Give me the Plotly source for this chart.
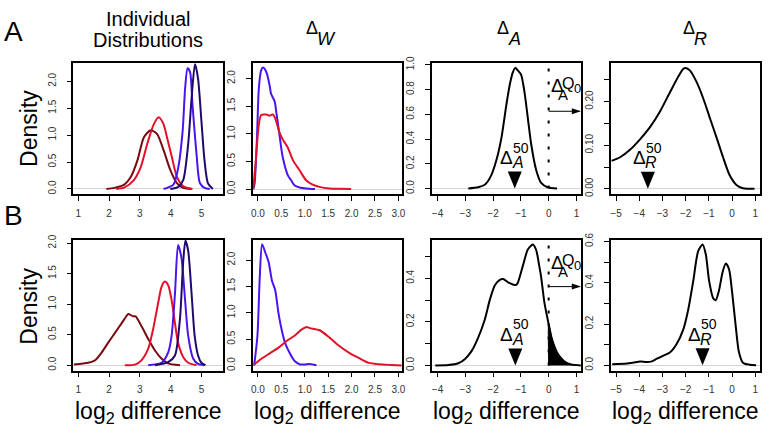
import plotly.graph_objects as go

FONT = "Liberation Sans, Arial, Helvetica, sans-serif"
C_DARKRED = "#780a12"
C_RED = "#e3102a"
C_BLUE = "#4a14f0"
C_NAVY = "#20096e"

# ---------------- Row A ----------------
a1_darkred_x = [1.91, 2.17, 2.49, 2.71, 2.92, 3.13, 3.35, 3.56, 3.77, 3.99, 4.2, 4.41, 4.68]
a1_darkred_y = [0, 0.02, 0.08, 0.23, 0.53, 0.96, 1.09, 1.02, 0.72, 0.35, 0.11, 0.02, 0]
a1_red_x = [2.23, 2.5, 2.81, 3.03, 3.24, 3.45, 3.61, 3.77, 3.88, 4.04, 4.2, 4.41, 4.71]
a1_red_y = [0, 0.03, 0.17, 0.41, 0.84, 1.2, 1.33, 1.2, 0.96, 0.59, 0.23, 0.05, 0]
a1_blue_x = [3.77, 4.09, 4.25, 4.39, 4.47, 4.55, 4.63, 4.71, 4.84, 4.95, 5.1, 5.27]
a1_blue_y = [0, 0.08, 0.41, 1.08, 1.87, 2.24, 2.17, 1.56, 0.65, 0.11, 0.02, 0]
a1_navy_x = [3.99, 4.25, 4.41, 4.57, 4.68, 4.79, 4.89, 5.0, 5.1, 5.21, 5.37]
a1_navy_y = [0, 0.04, 0.17, 0.84, 1.68, 2.32, 2.05, 1.26, 0.53, 0.11, 0]

a2_blue_x = [-0.1, -0.07, -0.02, 0.02, 0.07, 0.11, 0.18, 0.25, 0.28, 0.36, 0.39, 0.45, 0.53, 0.64, 0.71, 0.78, 0.89, 1.03, 1.22]
a2_blue_y = [0, 0.1, 0.93, 1.82, 2.15, 2.2, 2.12, 1.88, 1.73, 1.58, 1.41, 1.05, 0.58, 0.25, 0.16, 0.07, 0.03, 0.01, 0]
a2_red_x = [-0.1, -0.05, 0.02, 0.07, 0.18, 0.25, 0.32, 0.38, 0.45, 0.53, 0.64, 0.75, 0.89, 1.03, 1.17, 1.31, 1.53, 1.74, 1.99]
a2_red_y = [0, 0.46, 1.17, 1.34, 1.35, 1.33, 1.35, 1.26, 1.05, 0.9, 0.75, 0.52, 0.34, 0.16, 0.08, 0.04, 0.01, 0.005, 0]

a3_x = [-2.89, -2.54, -2.3, -2.08, -1.88, -1.7, -1.52, -1.4, -1.29, -1.2, -1.11, -0.99, -0.87, -0.75, -0.63, -0.45, -0.27, -0.04, 0.3]
a3_y = [0, 0.01, 0.03, 0.1, 0.23, 0.41, 0.68, 0.84, 0.94, 0.976, 0.955, 0.92, 0.78, 0.57, 0.36, 0.15, 0.045, 0.01, 0]

a4_x = [-5.2, -4.81, -4.39, -3.96, -3.53, -3.1, -2.67, -2.31, -2.1, -2.0, -1.81, -1.53, -1.24, -0.96, -0.67, -0.39, -0.1, 0.19, 0.47, 0.97]
a4_y = [0.064, 0.073, 0.09, 0.114, 0.142, 0.178, 0.222, 0.258, 0.275, 0.277, 0.271, 0.245, 0.207, 0.163, 0.118, 0.073, 0.031, 0.009, 0.0015, 0]

# ---------------- Row B ----------------
b1_darkred_x = [0.85, 1.32, 1.54, 1.76, 1.97, 2.19, 2.41, 2.57, 2.62, 2.78, 2.86, 3.05, 3.27, 3.49, 3.7, 3.92, 4.3]
b1_darkred_y = [0.01, 0.04, 0.08, 0.21, 0.37, 0.53, 0.69, 0.81, 0.84, 0.8, 0.8, 0.64, 0.43, 0.24, 0.11, 0.03, 0]
b1_red_x = [2.51, 2.84, 3.05, 3.27, 3.43, 3.59, 3.7, 3.81, 3.92, 4.03, 4.14, 4.24, 4.41, 4.57, 4.84]
b1_red_y = [0, 0.01, 0.08, 0.27, 0.59, 1.01, 1.28, 1.37, 1.31, 1.07, 0.69, 0.37, 0.13, 0.04, 0]
b1_blue_x = [3.27, 3.7, 3.92, 4.03, 4.14, 4.24, 4.35, 4.46, 4.57, 4.73, 4.89, 5.1]
b1_blue_y = [0, 0.04, 0.21, 0.48, 1.17, 1.97, 1.76, 1.12, 0.48, 0.11, 0.02, 0]
b1_navy_x = [3.49, 3.92, 4.14, 4.3, 4.41, 4.48, 4.57, 4.68, 4.78, 4.89, 5.0, 5.13]
b1_navy_y = [0, 0.05, 0.16, 0.75, 1.71, 2.04, 1.87, 1.17, 0.48, 0.16, 0.04, 0]

b2_blue_x = [-0.08, -0.01, 0.04, 0.09, 0.16, 0.23, 0.3, 0.37, 0.44, 0.51, 0.58, 0.69, 0.79, 0.9, 1.0, 1.11, 1.25]
b2_blue_y = [0, 0.56, 1.68, 2.3, 2.14, 1.96, 1.61, 1.43, 0.99, 0.67, 0.43, 0.22, 0.08, 0.02, 0.02, 0.03, 0.005]
b2_red_x = [-0.08, 0.06, 0.27, 0.44, 0.62, 0.79, 0.93, 1.04, 1.11, 1.32, 1.53, 1.74, 1.95, 2.16, 2.37, 2.58, 2.86, 3.07]
b2_red_y = [0.02, 0.12, 0.24, 0.34, 0.47, 0.57, 0.68, 0.73, 0.71, 0.67, 0.53, 0.37, 0.24, 0.14, 0.05, 0.025, 0.01, 0.0]

b3_x = [-4.08, -3.61, -3.25, -3.01, -2.77, -2.54, -2.3, -2.12, -1.94, -1.76, -1.64, -1.46, -1.29, -1.17, -1.11, -0.93, -0.75, -0.57, -0.45, -0.33, -0.275, -0.155, 0.0, 0.1, 0.2, 0.3, 0.44, 0.6, 0.8, 1.15]
b3_y = [0, 0.002, 0.01, 0.03, 0.067, 0.127, 0.21, 0.3, 0.367, 0.393, 0.397, 0.382, 0.372, 0.37, 0.38, 0.457, 0.532, 0.555, 0.53, 0.45, 0.41, 0.29, 0.19, 0.13, 0.09, 0.06, 0.035, 0.015, 0.005, 0]

b4_x = [-5.17, -4.53, -4.1, -3.96, -3.67, -3.46, -3.24, -2.96, -2.67, -2.39, -2.1, -1.89, -1.67, -1.46, -1.27, -1.13, -0.99, -0.81, -0.7, -0.56, -0.41, -0.27, -0.13, 0.01, 0.16, 0.3, 0.47, 0.76, 1.04]
b4_y = [0.005, 0.009, 0.016, 0.019, 0.016, 0.019, 0.032, 0.047, 0.063, 0.103, 0.174, 0.269, 0.41, 0.553, 0.585, 0.537, 0.41, 0.324, 0.316, 0.363, 0.45, 0.493, 0.466, 0.348, 0.19, 0.063, 0.013, 0.003, 0]

# medians (marked by triangles) and Q0 cut
median_A_a = -1.22
median_R_a = -3.63
median_A_b = -1.2
median_R_b = -1.27
q0_cut = 0.0
q0_arrow_end = 1.12

# axis ticks (labelled) and extra unlabelled ticks
x_ticks = [
    ([1, 2, 3, 4, 5], ["1", "2", "3", "4", "5"]),
    ([0, 0.5, 1, 1.5, 2, 2.5, 3], ["0.0", "0.5", "1.0", "1.5", "2.0", "2.5", "3.0"]),
    ([-4, -3, -2, -1, 0, 1], ["\u22124", "\u22123", "\u22122", "\u22121", "0", "1"]),
    ([-5, -4, -3, -2, -1, 0, 1], ["\u22125", "\u22124", "\u22123", "\u22122", "\u22121", "0", "1"]),
]
y_ticks_a = [
    ([0, 0.5, 1, 1.5, 2], ["0.0", "0.5", "1.0", "1.5", "2.0"], []),
    ([0, 0.5, 1, 1.5, 2], ["0.0", "0.5", "1.0", "1.5", "2.0"], []),
    ([0, 0.2, 0.4, 0.6, 0.8, 1.0], ["0.0", "0.2", "0.4", "0.6", "0.8", "1.0"], []),
    ([0, 0.1, 0.2], ["0.00", "0.10", "0.20"], [0.05, 0.15, 0.25]),
]
y_ticks_b = [
    ([0, 0.5, 1, 1.5, 2], ["0.0", "0.5", "1.0", "1.5", "2.0"], []),
    ([0, 0.5, 1, 1.5, 2], ["0.0", "0.5", "1.0", "1.5", "2.0"], []),
    ([0, 0.2, 0.4], ["0.0", "0.2", "0.4"], [0.1, 0.3, 0.5]),
    ([0, 0.2, 0.4, 0.6], ["0.0", "0.2", "0.4", "0.6"], [0.1, 0.3, 0.5]),
]
x_ranges = [[0.84, 5.70], [-0.11, 3.08], [-4.2, 1.18], [-5.21, 1.21]]
y_ranges_a = [[-0.095, 2.336], [-0.09, 2.28], [-0.045, 1.014], [-0.012, 0.288]]
y_ranges_b = [[-0.09, 2.05], [-0.098, 2.382], [-0.024, 0.576], [-0.026, 0.607]]

W, H = 773, 433
col_px = [(72, 222.7), (252.7, 403.3), (433.3, 584), (614, 764)]
row_px = [(57.5, 191.5), (238.5, 372.3)]

fig = go.Figure()


def ax_names(row, col):
    n = row * 4 + col + 1
    s = "" if n == 1 else str(n)
    return "x" + s, "y" + s, n


def line(row, col, xs, ys, color, width=2):
    xa, ya, _ = ax_names(row, col)
    fig.add_trace(go.Scatter(x=xs, y=ys, mode="lines", xaxis=xa, yaxis=ya,
                             line=dict(color=color, width=width, shape="spline", smoothing=0.7),
                             showlegend=False, hoverinfo="skip"))


layout = dict(width=W, height=H, margin=dict(l=0, r=0, t=0, b=0),
              paper_bgcolor="white", plot_bgcolor="white", showlegend=False,
              font=dict(family=FONT, color="black"))

for row in range(2):
    for col in range(4):
        xa, ya, n = ax_names(row, col)
        x0, x1 = col_px[col]
        t, b = row_px[row]
        yt = (y_ticks_a if row == 0 else y_ticks_b)[col]
        yr = (y_ranges_a if row == 0 else y_ranges_b)[col]
        key = "" if n == 1 else str(n)
        layout["xaxis" + key] = dict(
            domain=[x0 / W, x1 / W], anchor=ya, range=x_ranges[col],
            tickmode="array", tickvals=x_ticks[col][0], ticktext=x_ticks[col][1],
            showline=True, mirror=True, linecolor="black", linewidth=1.5,
            ticks="outside", ticklen=5, tickwidth=1, tickcolor="black",
            showgrid=False, zeroline=False, ticklabelstandoff=4,
            tickfont=dict(size=10, color="#333", family=FONT))
        yax = dict(
            domain=[1 - b / H, 1 - t / H], anchor=xa, range=yr,
            tickmode="array", tickvals=yt[0], ticktext=yt[1], tickangle=-90,
            showline=True, mirror=True, linecolor="black", linewidth=1.5,
            ticks="outside", ticklen=5, tickwidth=1, tickcolor="black",
            showgrid=False, zeroline=True, zerolinecolor="#d4d4d4", zerolinewidth=1,
            ticklabelstandoff=7,
            tickfont=dict(size=10, color="#333", family=FONT))
        if yt[2]:
            yax["minor"] = dict(tickmode="array", tickvals=yt[2], ticks="outside",
                                ticklen=5, tickwidth=1, tickcolor="black", showgrid=False)
        layout["yaxis" + key] = yax

# Shaded tail (panel B, Delta_A) under the curve beyond Q0
fill_x = [x for x in b3_x if x >= q0_cut]
fill_y = [y for x, y in zip(b3_x, b3_y) if x >= q0_cut]
fig.add_trace(go.Scatter(x=[q0_cut] + fill_x, y=[0] + fill_y, mode="lines", xaxis="x7", yaxis="y7",
                         fill="toself", fillcolor="black",
                         line=dict(color="black", width=1, shape="spline", smoothing=0.7),
                         showlegend=False, hoverinfo="skip"))

# Curves
line(0, 0, a1_darkred_x, a1_darkred_y, C_DARKRED)
line(0, 0, a1_red_x, a1_red_y, C_RED)
line(0, 0, a1_blue_x, a1_blue_y, C_BLUE)
line(0, 0, a1_navy_x, a1_navy_y, C_NAVY)
line(0, 1, a2_blue_x, a2_blue_y, C_BLUE)
line(0, 1, a2_red_x, a2_red_y, C_RED)
line(0, 2, a3_x, a3_y, "black")
line(0, 3, a4_x, a4_y, "black")
line(1, 0, b1_darkred_x, b1_darkred_y, C_DARKRED)
line(1, 0, b1_red_x, b1_red_y, C_RED)
line(1, 0, b1_blue_x, b1_blue_y, C_BLUE)
line(1, 0, b1_navy_x, b1_navy_y, C_NAVY)
line(1, 1, b2_blue_x, b2_blue_y, C_BLUE)
line(1, 1, b2_red_x, b2_red_y, C_RED)
line(1, 2, b3_x, b3_y, "black")
line(1, 3, b4_x, b4_y, "black")

shapes = []
annotations = []


def ann(text, x, y, size, xref="paper", yref="paper", xanchor="center", yanchor="middle",
        xshift=0, yshift=0, angle=0):
    annotations.append(dict(text=text, x=x, y=y, xref=xref, yref=yref, xanchor=xanchor,
                            yanchor=yanchor, xshift=xshift, yshift=yshift, textangle=angle,
                            showarrow=False, borderpad=0,
                            font=dict(size=size, family=FONT, color="black")))


# Median triangles + labels
for (xa, ya, med, letter) in [("x3", "y3", median_A_a, "A"), ("x4", "y4", median_R_a, "R"),
                              ("x7", "y7", median_A_b, "A"), ("x8", "y8", median_R_b, "R")]:
    shapes.append(dict(type="path", xref=xa, yref=ya, xsizemode="pixel", ysizemode="pixel",
                       xanchor=med, yanchor=0, path="M -7,17 L 7,17 L 0,0 Z",
                       fillcolor="black", line=dict(width=0)))
    ann("\u0394", med, 0, 19, xa, ya, xanchor="right", xshift=-1, yshift=31)
    ann("50", med, 0, 14, xa, ya, xanchor="left", xshift=-3, yshift=41)
    ann("<i>" + letter + "</i>", med, 0, 16, xa, ya, xanchor="left", xshift=-4, yshift=26)

# Q0 dotted line, labels and arrows in Delta_A panels
for (xa, ya, ytop, yarrow) in [("x3", "y3", 1.014, 0.625), ("x7", "y7", 0.576, 0.362)]:
    shapes.append(dict(type="line", xref=xa, yref=ya, x0=q0_cut, x1=q0_cut, y0=0, y1=ytop,
                       line=dict(color="black", width=2, dash="3px,10px")))
    shapes.append(dict(type="line", xref=xa, yref=ya, x0=q0_cut, x1=q0_arrow_end,
                       y0=yarrow, y1=yarrow, line=dict(color="black", width=1)))
    shapes.append(dict(type="path", xref=xa, yref=ya, xsizemode="pixel", ysizemode="pixel",
                       xanchor=q0_arrow_end, yanchor=yarrow, path="M 1,0 L -8,3 L -8,-3 Z",
                       fillcolor="black", line=dict(width=0)))
    ann("\u0394", q0_cut, 0, 19, xa, ya, xanchor="left", xshift=1, yshift=103)
    ann("Q", q0_cut, 0, 16, xa, ya, xanchor="left", xshift=12, yshift=105)
    ann("0", q0_cut, 0, 13, xa, ya, xanchor="left", xshift=24, yshift=100)
    ann("A", q0_cut, 0, 15, xa, ya, xanchor="left", xshift=8, yshift=94)

# Column titles
ann("Individual", 147.3 / W, 1 - 12 / H, 20)
ann("Distributions", 147.3 / W, 1 - 34 / H, 20)
for (cx_delta, cx_letter, letter) in [(312.5, 316, "W"), (505, 509, "A"), (692, 696, "R")]:
    ann("\u0394", cx_delta / W, 1 - 22 / H, 18)
    ann("<i>" + letter + "</i>", cx_letter / W, 1 - 33 / H, 18, xanchor="left")

# Row letters
ann("A", 12 / W, 1 - 25 / H, 28)
ann("B", 12 / W, 1 - 213 / H, 28)

# Y titles
ann("Density", 27 / W, 1 - 124 / H, 23, angle=-90)
ann("Density", 27 / W, 1 - 306 / H, 23, angle=-90)

# X titles
for cx in [147.3, 328, 508.7, 689]:
    ann("log<sub>2</sub> difference", cx / W, 1 - 415 / H, 23)

layout["shapes"] = shapes
layout["annotations"] = annotations
fig.update_layout(**layout)
fig.write_html("out.html", config={"displayModeBar": False})

# remove default page margin so the figure sits at the window's top-left corner
with open("out.html", "r", encoding="utf-8") as f:
    html = f.read()
html = html.replace("<body>", '<body style="margin:0;padding:0;">', 1)
with open("out.html", "w", encoding="utf-8") as f:
    f.write(html)
